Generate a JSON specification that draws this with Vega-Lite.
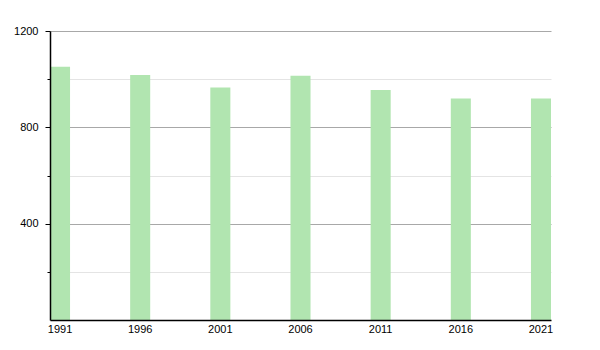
{
  "$schema": "https://vega.github.io/schema/vega-lite/v6.json",
  "width": 501,
  "height": 289,
  "autosize": {"type": "none"},
  "padding": {"left": 50, "top": 31, "right": 49, "bottom": 30},
  "background": "white",
  "config": {"view": {"stroke": null}, "font": "Liberation Sans"},
  "data": {"values": [
    {"year": "1991", "pop": 1052},
    {"year": "1996", "pop": 1017},
    {"year": "2001", "pop": 965},
    {"year": "2006", "pop": 1014},
    {"year": "2011", "pop": 955},
    {"year": "2016", "pop": 920},
    {"year": "2021", "pop": 920}
  ]},
  "encoding": {
    "x": {"field": "year", "type": "nominal",
          "scale": {"paddingInner": 0.75, "paddingOuter": 0},
          "axis": {"title": null, "labelAngle": 0, "ticks": false, "labelPadding": 3, "zindex": 1,
                   "labelFontSize": 11, "labelColor": "#000", "domainColor": "#000", "domainWidth": 1.5}}
  },
  "layer": [
    {
      "mark": {"type": "bar", "opacity": 0},
      "encoding": {
        "y": {"field": "pop", "type": "quantitative",
              "scale": {"domain": [0, 1200], "nice": false},
              "axis": {"orient": "left", "values": [200, 600, 1000], "labels": false, "title": null,
                       "domain": false, "tickSize": 3, "tickColor": "#000",
                       "grid": true, "gridColor": "#e4e4e4", "gridWidth": 1}}
      }
    },
    {
      "mark": {"type": "bar", "opacity": 0},
      "encoding": {
        "y": {"field": "pop", "type": "quantitative",
              "scale": {"domain": [0, 1200], "nice": false},
              "axis": {"orient": "left", "values": [], "labels": false, "ticks": false, "title": null,
                       "domainColor": "#000", "domainWidth": 1.5, "grid": false, "zindex": 1}}
      }
    },
    {
      "mark": {"type": "bar", "color": "#b1e5b0"},
      "encoding": {
        "y": {"field": "pop", "type": "quantitative",
              "scale": {"domain": [0, 1200], "nice": false},
              "axis": {"orient": "left", "values": [400, 800, 1200], "title": null, "format": "d",
                       "tickSize": 5, "tickColor": "#000", "labelPadding": 7,
                       "labelFontSize": 11, "labelColor": "#000", "domain": false,
                       "grid": true, "gridColor": "#a8a8a8", "gridWidth": 1}}
      }
    }
  ],
  "resolve": {"axis": {"y": "independent"}}
}
